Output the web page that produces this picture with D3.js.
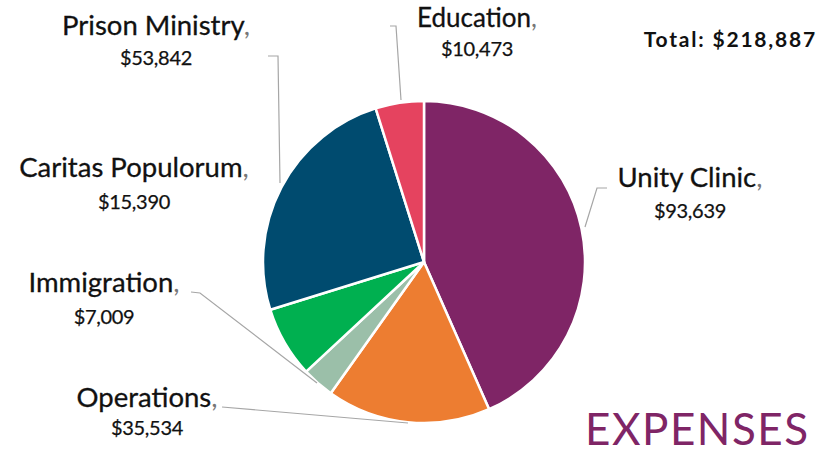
<!DOCTYPE html>
<html><head><meta charset="utf-8">
<script src="https://cdn.jsdelivr.net/npm/d3@7"></script>
<style>body{margin:0;background:#fff}svg{display:block}</style>
</head><body>
<svg id="c" width="835" height="453"></svg>
<script>
const categories = ["Unity Clinic","Operations","Immigration","Caritas Populorum","Prison Ministry","Education"];
const values = [93639, 35534, 7009, 15390, 53842, 10473];
const colors = ["#7F2566","#ED7D31","#9BBFA9","#00B050","#004B6F","#E5435F"];
const totalLabel = "Total: $218,887";
const titleText = "EXPENSES";

const svg = d3.select("#c");
const cx = 424, cy = 262, r = 161;
const data = categories.map((c,i)=>({name:c,value:values[i],color:colors[i]}));
const pie = d3.pie().value(d=>d.value).sort(null);
const arc = d3.arc().innerRadius(0).outerRadius(r);
const arcs = pie(data);

const g = svg.append("g").attr("transform",`translate(${cx},${cy})`);
g.selectAll("path").data(arcs).join("path")
  .attr("d",arc).attr("fill",d=>d.data.color)
  .attr("stroke","#fff").attr("stroke-width",2.5).attr("stroke-linejoin","round");

const fmt = d3.format("$,");
const layout = {
  "Unity Clinic":      {x:690, y:187, vy:218, fs:27.5, line:[[607,188],[597,188]], end:[585,227]},
  "Operations":        {x:147, y:407, vy:435, fs:27.5, line:[[222,407]], end:[408,423]},
  "Immigration":       {x:104, y:292, vy:324, fs:27.5, line:[[191,292],[200,293]], end:[317,383]},
  "Caritas Populorum": {x:134, y:177, vy:209, fs:27.5, line:null},
  "Prison Ministry":   {x:156, y:35, vy:65, fs:27.5, line:[[268,56],[278,56]], end:[280,183]},
  "Education":         {x:477, y:27, vy:56, fs:26, line:[[390,26],[396,26]], end:[401,100]}
};
const lineGen = d3.line();
data.forEach(d=>{
  const L = layout[d.name];
  if(L.line){
    svg.append("path").attr("d",lineGen([...L.line, L.end]))
      .attr("fill","none").attr("stroke","#A6A6A6").attr("stroke-width",1.2);
  }
  const t = svg.append("text").attr("x",L.x).attr("y",L.y).attr("text-anchor","middle")
    .attr("font-family","Lato, sans-serif").attr("font-size",L.fs).attr("fill","#111")
    .attr("stroke","#111").attr("stroke-width",0.3);
  t.append("tspan").text(d.name);
  t.append("tspan").text(",").attr("fill","#777").attr("stroke","none");
  svg.append("text").attr("x",L.x).attr("y",L.vy).attr("text-anchor","middle")
    .attr("font-family","Lato, sans-serif").attr("font-size",20).attr("fill","#111")
    .attr("stroke","#111").attr("stroke-width",0.25)
    .attr("letter-spacing",-0.3)
    .text(fmt(d.value));
});

svg.append("text").attr("x",817).attr("y",47).attr("text-anchor","end")
  .attr("font-family","Lato, sans-serif").attr("font-weight",700).attr("font-size",21)
  .attr("letter-spacing",1.8)
  .attr("fill","#111").text(totalLabel);
svg.append("text").attr("x",585).attr("y",445)
  .attr("font-family","Lato, sans-serif").attr("font-size",44)
  .attr("letter-spacing",1.5)
  .attr("fill","#7F2566").text(titleText);
</script>
</body></html>
